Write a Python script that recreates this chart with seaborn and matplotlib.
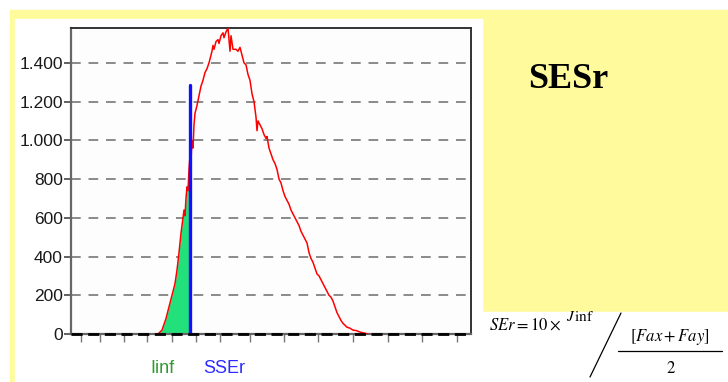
import matplotlib
matplotlib.use("Agg")
import matplotlib.pyplot as plt
from matplotlib.patches import Rectangle
from matplotlib.lines import Line2D
import seaborn as sns
import pandas as pd

sns.set_style("white")
plt.rcParams['font.family'] = ['Liberation Sans', 'DejaVu Sans']
plt.rcParams['mathtext.fontset'] = 'stix'
plt.rcParams['text.color'] = 'black'

# distribution curve (x = horizontal position, y = count)
curve_x = [87, 91, 95, 99, 101, 104, 106, 108, 110, 112, 113, 114, 115, 116, 117, 118,
           119, 120, 121, 122, 123, 124, 126, 128, 130, 132, 134, 136, 138, 139, 141, 142,
           143, 145, 147, 148, 150, 152, 153, 155, 157, 158, 159, 160, 162, 165, 167, 169,
           171, 173, 175, 177, 179, 181, 183, 185, 186, 187, 189, 191, 193, 195, 196, 198,
           200, 202, 204, 206, 208, 210, 212, 214, 216, 218, 220, 222, 224, 226, 228, 230,
           232, 234, 236, 238, 240, 242, 244, 246, 248, 250, 252, 254, 256, 258, 260, 262,
           264, 266, 268, 270, 272, 274, 276, 279, 282, 285, 289, 293, 297]
curve_y = [0, 20, 80, 160, 200, 260, 330, 420, 520, 600, 640, 610, 700, 760, 740, 850,
           920, 900, 1000, 960, 1080, 1140, 1180, 1230, 1280, 1310, 1350, 1370, 1400, 1420, 1460, 1490,
           1470, 1510, 1520, 1500, 1540, 1555, 1530, 1560, 1580, 1520, 1460, 1540, 1470, 1470, 1460, 1480,
           1440, 1400, 1390, 1340, 1310, 1240, 1200, 1120, 1050, 1100, 1080, 1060, 1030, 1010, 1020, 960,
           930, 900, 880, 850, 800, 780, 740, 710, 690, 670, 640, 620, 600, 580, 560, 530,
           510, 490, 470, 420, 390, 370, 340, 310, 300, 280, 260, 240, 220, 200, 190, 170,
           140, 110, 90, 70, 55, 45, 35, 30, 20, 18, 10, 5, 0]

marker_x = 119          # SSEr position
marker_h = 1285
y_ticks = [0, 200, 400, 600, 800, 1000, 1200, 1400]
y_labels = ['0', '200', '400', '600', '800', '1.000', '1.200', '1.400']
x_ticks = [10, 29, 53, 76, 101, 125, 149, 179, 213, 247, 282, 317, 351, 386]

df = pd.DataFrame({'x': curve_x, 'y': curve_y})

W, H = 728, 382
fig = plt.figure(figsize=(W / 100, H / 100), dpi=100)
fig.patch.set_facecolor('white')

def box(x0, y0, x1, y1, color):
    fig.patches.append(Rectangle((x0 / W, 1 - y1 / H), (x1 - x0) / W, (y1 - y0) / H,
                                 transform=fig.transFigure, color=color, zorder=-5))

yellow = '#fffb9c'
box(10, 10, 728, 382, yellow)
box(15, 19, 482, 382, 'white')
box(482, 312, 728, 382, 'white')

ax = fig.add_axes([71 / W, 1 - 334 / H, 400 / W, 306 / H])
ax.set_facecolor('#fdfdfd')

# green area under curve up to SSEr
sub = df[df['x'] <= marker_x]
ax.fill_between(sub['x'], 0, sub['y'], color='#22e07a', lw=0, zorder=2)

sns.lineplot(data=df, x='x', y='y', ax=ax, color='red', lw=1.1,
             estimator=None, sort=False, zorder=3)
ax.plot([marker_x, marker_x], [0, marker_h], color='#1010ff', lw=2.4, zorder=4)

for v in y_ticks[1:]:
    ax.axhline(v, color='#8a8a8a', lw=1.4, ls=(0, (5, 4)), zorder=1)
ax.axhline(0, color='black', lw=2.0, ls=(0, (4, 2)), zorder=5, clip_on=False)

ax.set_xlim(0, 400)
ax.set_ylim(0, 1580)
ax.set_yticks(y_ticks)
ax.set_yticklabels(y_labels)
ax.set_xticks(x_ticks)
ax.set_xticklabels([])
ax.set_xlabel('')
ax.set_ylabel('')
ax.tick_params(axis='y', length=5, width=1.3, color='#555555', labelsize=12.5,
               labelcolor='#1a1a1a', pad=1, left=True)
ax.tick_params(axis='x', length=6, width=1, color='#777777', bottom=True, direction='out')
for s in ['left', 'bottom']:
    ax.spines[s].set_color('#666666')
    ax.spines[s].set_linewidth(1.6)
for s in ['top', 'right']:
    ax.spines[s].set_color('#333333')
    ax.spines[s].set_linewidth(1.4)

tr = ax.get_xaxis_transform()
ax.text(91, -0.112, 'Iinf', color='#2f9a2f', fontsize=13, ha='center', va='center', transform=tr)
ax.text(153, -0.112, 'SSEr', color='#2b2bff', fontsize=13, ha='center', va='center', transform=tr)

fig.text(528 / W, 1 - 80 / H, 'SESr', fontsize=26, fontweight='bold',
         family='Liberation Serif', va='center', ha='left')

# formula
fig.text(489 / W, 1 - 325 / H, r'$SEr=10\times$', fontsize=12, va='center', ha='left')
fig.text(566 / W, 1 - 317 / H, r'$J\,\mathrm{inf}$', fontsize=11, va='center', ha='left')
fig.lines.append(Line2D([590 / W, 621 / W], [1 - 377 / H, 1 - 313 / H],
                        transform=fig.transFigure, color='black', lw=0.9))
fig.text(670 / W, 1 - 337 / H, r'$\left[Fax+Fay\right]$', fontsize=12, va='center', ha='center')
fig.lines.append(Line2D([618 / W, 722 / W], [1 - 351 / H, 1 - 351 / H],
                        transform=fig.transFigure, color='black', lw=0.9))
fig.text(671 / W, 1 - 368 / H, r'$2$', fontsize=12, va='center', ha='center')

plt.savefig('out.png', dpi=100)
